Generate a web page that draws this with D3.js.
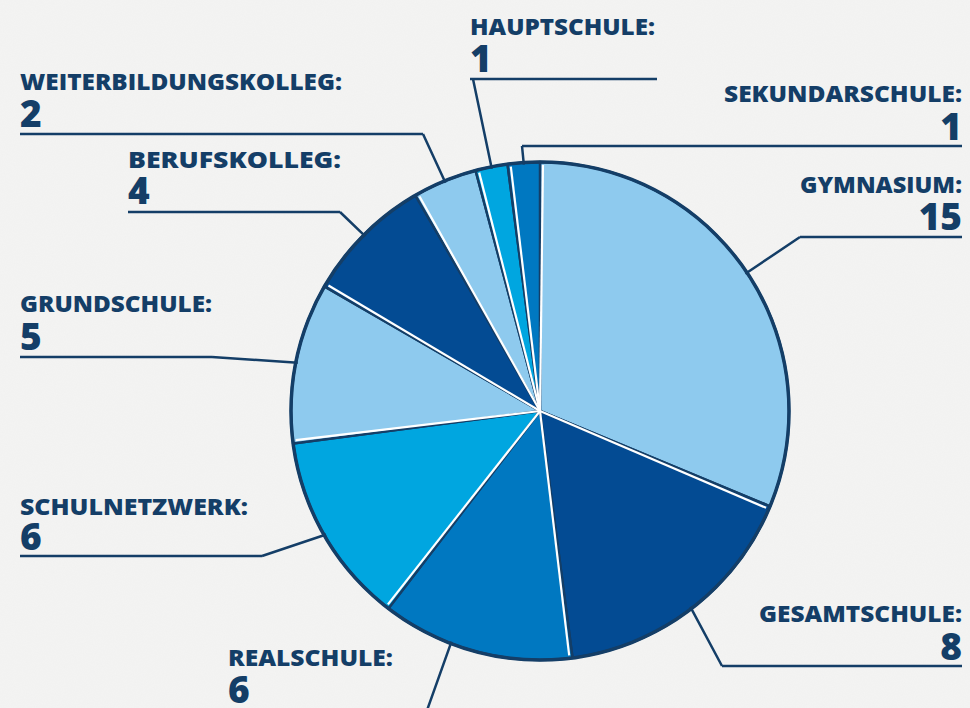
<!DOCTYPE html>
<html>
<head>
<meta charset="utf-8">
<script src="https://cdn.jsdelivr.net/npm/d3@7"></script>
<style>
  body { margin: 0; background: #f4f4f3; }
  svg { display: block; }
</style>
</head>
<body>
<svg width="970" height="708"></svg>
<script>
// school types, clockwise from 12 o'clock
var categories = ["Gymnasium", "Gesamtschule", "Realschule", "Schulnetzwerk", "Grundschule",
    "Berufskolleg", "Weiterbildungskolleg", "Hauptschule", "Sekundarschule"];
var values = [15, 8, 6, 6, 5, 4, 2, 1, 1];
var colors = ["#8ecaee", "#034b93", "#0078c1", "#00a6e0", "#8ecaee",
    "#034b93", "#8ecaee", "#00a6e0", "#0078c1"];

// label placement: text x, anchor, label/number baselines, underline y + x range, elbow x, angle nudge
var layout = [
    { x: 962, a: "end",   ly: 193, ny: 230, uy: 237, u1: 800, u2: 962, ex: 800, w: 162, da: 0 },
    { x: 962, a: "end",   ly: 622, ny: 660, uy: 666, u1: 722, u2: 962, ex: 722, w: 203, da: 0 },
    { x: 228, a: "start", ly: 666, ny: 703, uy: 716, u1: 228, u2: 425, ex: 425, w: 165, da: 6 },
    { x: 20,  a: "start", ly: 515, ny: 550, uy: 556, u1: 20,  u2: 262, ex: 262, w: 228, da: 0 },
    { x: 20,  a: "start", ly: 312, ny: 350, uy: 357, u1: 20,  u2: 212, ex: 212, w: 192, da: 0 },
    { x: 128, a: "start", ly: 168, ny: 204, uy: 212, u1: 128, u2: 340, ex: 340, w: 213, da: 0 },
    { x: 20,  a: "start", ly: 90,  ny: 127, uy: 134, u1: 20,  u2: 423, ex: 423, w: 322, da: 0 },
    { x: 470, a: "start", ly: 35,  ny: 72,  uy: 79,  u1: 470, u2: 657, ex: 473, w: 185, da: 0 },
    { x: 962, a: "end",   ly: 102, ny: 140, uy: 146, u1: 522, u2: 962, ex: 522, w: 238, da: 0 }
];

var ink = "#143e67";
var svg = d3.select("svg");
var cx = 540, cy = 411, radius = 249;

// paper texture
var defs = svg.append("defs");
var f = defs.append("filter").attr("id", "paper").attr("x", 0).attr("y", 0).attr("width", "100%").attr("height", "100%");
f.append("feTurbulence").attr("type", "fractalNoise").attr("baseFrequency", 0.9).attr("numOctaves", 2).attr("seed", 3);
f.append("feColorMatrix").attr("type", "matrix")
    .attr("values", "0 0 0 0 0.6  0 0 0 0 0.6  0 0 0 0 0.6  0 0 0 0.08 0");

svg.append("rect").attr("width", 970).attr("height", 708).attr("fill", "#f4f4f3");
svg.append("rect").attr("width", 970).attr("height", 708).attr("filter", "url(#paper)");

var pie = d3.pie().sort(null).value(function (d) { return d; });
var arcs = pie(values);
var arc = d3.arc().innerRadius(0).outerRadius(radius);

var g = svg.append("g").attr("transform", "translate(" + cx + "," + cy + ")");

g.selectAll("path.slice")
    .data(arcs)
    .enter()
    .append("path")
    .attr("class", "slice")
    .attr("d", arc)
    .attr("fill", function (d, i) { return colors[i]; })
    .attr("stroke", ink)
    .attr("stroke-width", 2.5)
    .attr("stroke-linejoin", "round");

// white highlight beside each separator
g.selectAll("line.sep")
    .data(arcs)
    .enter()
    .append("line")
    .attr("class", "sep")
    .attr("x1", 0).attr("y1", 0)
    .attr("x2", function (d) { return (radius - 3) * Math.sin(d.startAngle + 0.012); })
    .attr("y2", function (d) { return -(radius - 3) * Math.cos(d.startAngle + 0.012); })
    .attr("stroke", "#ffffff")
    .attr("stroke-width", 2.2);

g.append("circle")
    .attr("r", radius)
    .attr("fill", "none")
    .attr("stroke", ink)
    .attr("stroke-width", 3.5);

// leader lines
var lab = svg.append("g");
lab.selectAll("path.leader")
    .data(arcs)
    .enter()
    .append("path")
    .attr("class", "leader")
    .attr("d", function (d, i) {
        var L = layout[i];
        var m = (d.startAngle + d.endAngle) / 2 + L.da * Math.PI / 180;
        var px = cx + (radius - 2) * Math.sin(m), py = cy - (radius - 2) * Math.cos(m);
        return "M" + L.u1 + "," + L.uy + "H" + L.u2 + "M" + L.ex + "," + L.uy + "L" + px + "," + py;
    })
    .attr("fill", "none")
    .attr("stroke", ink)
    .attr("stroke-width", 2.5);

lab.selectAll("text.name")
    .data(categories)
    .enter()
    .append("text")
    .attr("class", "name")
    .attr("x", function (d, i) { return layout[i].x; })
    .attr("y", function (d, i) { return layout[i].ly; })
    .attr("text-anchor", function (d, i) { return layout[i].a; })
    .attr("textLength", function (d, i) { return layout[i].w; })
    .attr("lengthAdjust", "spacingAndGlyphs")
    .attr("font-family", "'Open Sans', sans-serif")
    .attr("font-weight", 800)
    .attr("font-size", 23)
    .attr("fill", ink)
    .text(function (d) { return d.toUpperCase() + ":"; });

lab.selectAll("text.num")
    .data(values)
    .enter()
    .append("text")
    .attr("class", "num")
    .attr("x", function (d, i) { return layout[i].x; })
    .attr("y", function (d, i) { return layout[i].ny; })
    .attr("text-anchor", function (d, i) { return layout[i].a; })
    .attr("font-family", "'Open Sans', sans-serif")
    .attr("font-weight", 800)
    .attr("font-size", 37)
    .attr("fill", ink)
    .text(function (d) { return d; });
</script>
</body>
</html>
